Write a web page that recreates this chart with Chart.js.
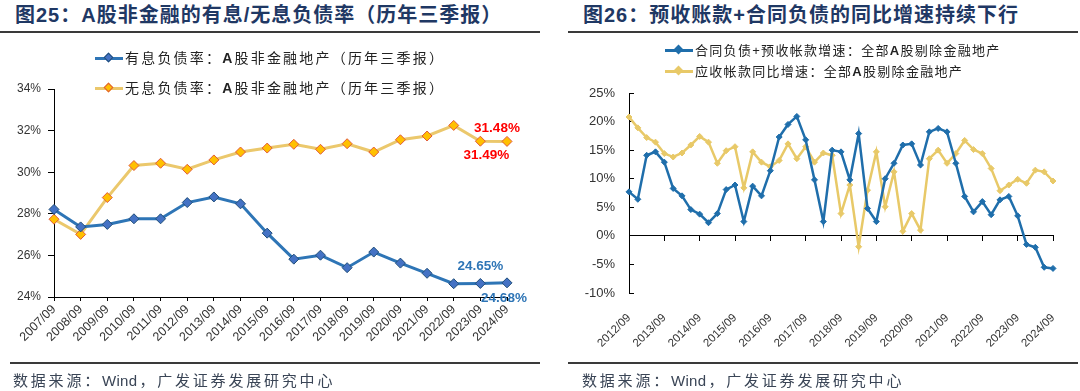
<!DOCTYPE html>
<html><head><meta charset="utf-8">
<script src="https://cdn.jsdelivr.net/npm/chart.js@4.4.1/dist/chart.umd.min.js"></script>
<style>
html,body{margin:0;padding:0;background:#fff;}
body{width:1080px;height:391px;position:relative;overflow:hidden;font-family:"Liberation Sans",Arial,"Noto Sans CJK SC",sans-serif;}
.title{position:absolute;top:3px;font-family:"Liberation Sans","Noto Sans CJK SC",sans-serif;font-weight:bold;font-size:20px;color:#1F3864;white-space:nowrap;line-height:24px;letter-spacing:1px;}
.rule{position:absolute;height:2px;background:#3a3a3a;}
.src{position:absolute;top:371px;font-family:"Liberation Sans","Noto Sans CJK SC",sans-serif;font-size:15px;color:#3A4556;letter-spacing:2.8px;white-space:nowrap;line-height:20px;}
.src .w{letter-spacing:0.3px;margin-right:2px;}
.leg{position:absolute;font-family:"Liberation Sans","Noto Sans CJK SC",sans-serif;color:#222;white-space:nowrap;line-height:18px;}
.leg b{font-family:"Liberation Sans",Arial,sans-serif;}
.ln{display:inline-block;width:28px;height:3px;vertical-align:middle;position:relative;margin-right:2px;top:-1px;}
.mk{position:absolute;left:10px;top:-3px;width:7px;height:7px;transform:rotate(45deg);box-sizing:border-box;}
canvas{position:absolute;top:0;}
</style>
</head>
<body>
<div class="title" style="left:15px;">图25：A股非金融的有息/无息负债率（历年三季报）</div>
<div class="rule" style="left:0;top:31px;width:540px;"></div>
<div class="title" style="left:583px;">图26：预收账款+合同负债的同比增速持续下行</div>
<div class="rule" style="left:568px;top:31px;width:510px;"></div>

<canvas id="c1" width="540" height="391" style="left:0;"></canvas>
<canvas id="c2" width="520" height="391" style="left:560px;"></canvas>

<div class="leg" style="left:95px;top:49px;font-size:14px;letter-spacing:2.2px;"><span class="ln" style="background:#2E75B6;"><span class="mk" style="background:#4472C4;border:1px solid #1F4E79;"></span></span>有息负债率：<b>A</b>股非金融地产（历年三季报）</div>
<div class="leg" style="left:95px;top:79px;font-size:14px;letter-spacing:2.2px;"><span class="ln" style="background:#EBC86C;"><span class="mk" style="background:#FFC000;border:1px solid #E05A3A;"></span></span>无息负债率：<b>A</b>股非金融地产（历年三季报）</div>

<div class="leg" style="left:665px;top:42px;font-size:13px;letter-spacing:1.3px;"><span class="ln" style="background:#1F6EAB;"><span class="mk" style="background:#1F6EAB;"></span></span>合同负债+预收帐款增速：全部<b>A</b>股剔除金融地产</div>
<div class="leg" style="left:665px;top:63px;font-size:13px;letter-spacing:1.3px;"><span class="ln" style="background:#E8C968;"><span class="mk" style="background:#E8C968;"></span></span>应收帐款同比增速：全部<b>A</b>股剔除金融地产</div>

<div class="rule" style="left:10px;top:362px;width:530px;"></div>
<div class="rule" style="left:568px;top:362px;width:510px;"></div>
<div class="src" style="left:13px;">数据来源：<span class="w">Wind</span>，广发证券发展研究中心</div>
<div class="src" style="left:582px;">数据来源：<span class="w">Wind</span>，广发证券发展研究中心</div>

<script>
// ---------- Data: left chart (annual, Q3 reports) ----------
const years = ['2007/09','2008/09','2009/09','2010/09','2011/09','2012/09','2013/09','2014/09','2015/09','2016/09','2017/09','2018/09','2019/09','2020/09','2021/09','2022/09','2023/09','2024/09'];
const interestBearing = [28.21,27.37,27.49,27.76,27.76,28.54,28.81,28.48,27.07,25.82,26.01,25.41,26.16,25.63,25.14,24.64,24.65,24.68];
const nonInterestBearing = [27.74,27.01,28.78,30.32,30.43,30.14,30.59,30.97,31.16,31.34,31.10,31.37,30.97,31.56,31.74,32.25,31.49,31.48];
const leftTicks = [24,26,28,30,32,34];

// ---------- Data: right chart (quarterly) ----------
const quarters = ['2012/09','2012/12','2013/03','2013/06','2013/09','2013/12','2014/03','2014/06','2014/09','2014/12','2015/03','2015/06','2015/09','2015/12','2016/03','2016/06','2016/09','2016/12','2017/03','2017/06','2017/09','2017/12','2018/03','2018/06','2018/09','2018/12','2019/03','2019/06','2019/09','2019/12','2020/03','2020/06','2020/09','2020/12','2021/03','2021/06','2021/09','2021/12','2022/03','2022/06','2022/09','2022/12','2023/03','2023/06','2023/09','2023/12','2024/03','2024/06','2024/09'];
const contractAdvanceGrowth = [7.7,6.4,14.1,14.7,12.9,8.3,7.0,4.6,3.8,2.3,3.9,8.1,8.9,2.5,8.7,7.0,11.4,17.3,19.5,20.9,16.8,9.8,2.5,15.0,14.7,9.8,17.9,4.8,2.5,10.0,12.7,15.9,16.1,12.4,18.2,18.8,18.2,12.7,6.9,4.2,6.0,3.7,6.3,6.9,3.5,-1.5,-2.0,-5.5,-5.7];
const receivableGrowth = [20.8,18.9,17.2,16.4,14.4,13.8,14.5,15.9,17.4,16.4,12.7,14.9,15.6,8.4,14.7,12.9,12.1,13.2,16.1,13.5,15.6,12.9,14.5,14.1,3.9,8.9,-1.9,8.0,14.7,5.1,11.2,0.8,3.9,1.0,13.5,15.0,12.7,14.4,16.7,15.1,14.4,11.8,7.9,8.9,9.9,9.2,11.5,11.2,9.6];
const rightTicks = [-10,-5,0,5,10,15,20,25];

const TICK_FONT = '"Liberation Sans", Arial, sans-serif';

// data-label plugin: draws value text at the dataset point pixel
const pointLabels = {
  id: 'pointLabels',
  afterDatasetsDraw(chart, args, opts) {
    if (!opts || !opts.items) return;
    const ctx = chart.ctx;
    opts.items.forEach(it => {
      const meta = chart.getDatasetMeta(it.ds);
      const pt = meta.data[it.idx];
      const v = chart.data.datasets[it.ds].data[it.idx];
      ctx.save();
      ctx.font = 'bold 13.5px ' + TICK_FONT;
      ctx.fillStyle = it.color;
      ctx.textAlign = 'center';
      ctx.textBaseline = 'middle';
      ctx.fillText(v.toFixed(2) + '%', pt.x + it.dx, pt.y + it.dy);
      ctx.restore();
    });
  }
};

new Chart(document.getElementById('c1'), {
  type: 'line',
  data: {
    labels: years,
    datasets: [
      { data: interestBearing, borderColor: '#2E75B6', borderWidth: 3, pointStyle: 'rectRot', pointRadius: 5,
        pointBackgroundColor: '#4472C4', pointBorderColor: '#1F4E79', pointBorderWidth: 1, tension: 0, fill: false },
      { data: nonInterestBearing, borderColor: '#EBC86C', borderWidth: 3, pointStyle: 'rectRot', pointRadius: 5,
        pointBackgroundColor: '#FFC000', pointBorderColor: '#E05A3A', pointBorderWidth: 1, tension: 0, fill: false }
    ]
  },
  options: {
    responsive: false, animation: false, devicePixelRatio: 1,
    layout: { padding: { top: 89, right: 33, bottom: 34, left: 0 } },
    plugins: {
      legend: { display: false }, tooltip: { enabled: false },
      pointLabels: { items: [
        { ds: 0, idx: 16, dx: 0, dy: -17, color: '#2E75B6' },
        { ds: 0, idx: 17, dx: -3, dy: 15, color: '#2E75B6' },
        { ds: 1, idx: 16, dx: 6, dy: 14, color: '#FF0000' },
        { ds: 1, idx: 17, dx: -10, dy: -13, color: '#FF0000' }
      ] }
    },
    scales: {
      x: {
        grid: { drawOnChartArea: false, drawTicks: true, tickLength: 4, color: '#000' },
        border: { display: true, color: '#000', width: 1 },
        ticks: { autoSkip: false, maxRotation: 45, minRotation: 45, padding: 1, color: '#333', font: { family: TICK_FONT, size: 12.5 } },
        afterFit: s => { s.height = 60; }
      },
      y: {
        min: 24, max: 34,
        afterBuildTicks: s => { s.ticks = leftTicks.map(v => ({ value: v })); },
        grid: { drawOnChartArea: false, drawTicks: true, tickLength: 6, color: '#000' },
        border: { display: true, color: '#000', width: 1 },
        ticks: { padding: 7, color: '#333', font: { family: TICK_FONT, size: 12 }, callback: v => v + '%' },
        afterFit: s => { s.width = 54; }
      }
    }
  },
  plugins: [pointLabels]
});

new Chart(document.getElementById('c2'), {
  type: 'line',
  data: {
    labels: quarters,
    datasets: [
      { data: contractAdvanceGrowth, borderColor: '#1F6EAB', borderWidth: 2.5, pointStyle: 'rectRot', pointRadius: 3,
        pointBackgroundColor: '#1F6EAB', pointBorderColor: '#1F6EAB', pointBorderWidth: 1, tension: 0, fill: false },
      { data: receivableGrowth, borderColor: '#E8C968', borderWidth: 2.5, pointStyle: 'rectRot', pointRadius: 3,
        pointBackgroundColor: '#E8C968', pointBorderColor: '#E8C968', pointBorderWidth: 1, tension: 0, fill: false }
    ]
  },
  options: {
    responsive: false, animation: false, devicePixelRatio: 1,
    layout: { padding: { top: 93, right: 27, bottom: 38, left: 0 } },
    plugins: { legend: { display: false }, tooltip: { enabled: false } },
    scales: {
      x: {
        grid: { display: false },
        border: { display: false },
        ticks: { autoSkip: false, maxRotation: 45, minRotation: 45, padding: 10, color: '#333', font: { family: TICK_FONT, size: 11.5 },
          callback: function(v, i) { return i % 4 === 0 ? this.getLabelForValue(v) : ''; } },
        afterFit: s => { s.height = 60; }
      },
      x2: {
        type: 'category', axis: 'x', position: { y: 0 },
        grid: { display: true, drawOnChartArea: false, drawTicks: true, tickLength: 5,
          color: ctx => (ctx.index % 4 === 0 ? '#000' : 'rgba(0,0,0,0)') },
        border: { display: true, color: '#000', width: 1 },
        ticks: { display: false, autoSkip: false }
      },
      y: {
        min: -10, max: 25,
        afterBuildTicks: s => { s.ticks = rightTicks.map(v => ({ value: v })); },
        grid: { drawOnChartArea: false, drawTicks: true, tickLength: -5, color: '#000' },
        border: { display: true, color: '#000', width: 1 },
        ticks: { padding: 19, color: '#333', font: { family: TICK_FONT, size: 13 }, callback: v => v + '%' },
        afterFit: s => { s.width = 69; }
      }
    }
  }
});
</script>
</body></html>
